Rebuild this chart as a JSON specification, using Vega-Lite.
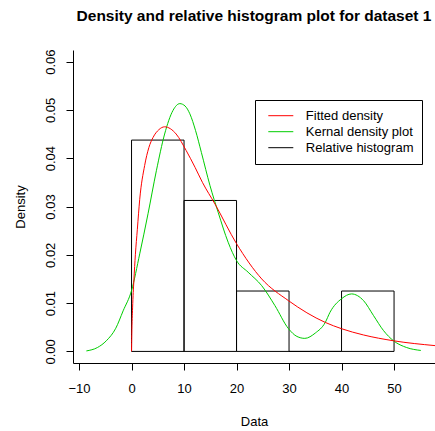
{
  "$schema": "https://vega.github.io/schema/vega-lite/v6.json",
  "width": 362,
  "height": 313,
  "autosize": {"type": "none"},
  "padding": {"left": 73, "top": 50, "right": 0, "bottom": 68},
  "background": "white",
  "title": {"text": "Density and relative histogram plot for dataset 1", "font": "Liberation Sans", "fontSize": 15.5, "fontWeight": "bold", "color": "black", "anchor": "middle", "frame": "group", "baseline": "alphabetic", "offset": 12},
  "config": {
    "view": {"stroke": null},
    "font": "Liberation Sans",
    "axis": {"labelFont": "Liberation Sans", "labelFontSize": 13, "labelColor": "black", "titleFont": "Liberation Sans", "titleFontSize": 13, "titleFontWeight": "normal", "titleColor": "black", "domainColor": "black", "tickColor": "black", "tickSize": 7, "grid": false, "domainWidth": 1, "tickWidth": 1}
  },
  "datasets": {
    "hist": [
      {"series": "Relative histogram", "lo": 0, "hi": 10, "density": 0.04375},
      {"series": "Relative histogram", "lo": 10, "hi": 20, "density": 0.03125},
      {"series": "Relative histogram", "lo": 20, "hi": 30, "density": 0.0125},
      {"series": "Relative histogram", "lo": 30, "hi": 40, "density": 0},
      {"series": "Relative histogram", "lo": 40, "hi": 50, "density": 0.0125}
    ],
    "curves": [
      {"series": "Kernal density plot", "x": -8.6, "y": 0.0001},
      {"series": "Kernal density plot", "x": -6.5, "y": 0.0008},
      {"series": "Kernal density plot", "x": -4.8, "y": 0.0022},
      {"series": "Kernal density plot", "x": -3.0, "y": 0.0048},
      {"series": "Kernal density plot", "x": -1.6, "y": 0.0084},
      {"series": "Kernal density plot", "x": 0, "y": 0.0126},
      {"series": "Kernal density plot", "x": 1.56, "y": 0.0202},
      {"series": "Kernal density plot", "x": 3.14, "y": 0.0285},
      {"series": "Kernal density plot", "x": 4.73, "y": 0.0374},
      {"series": "Kernal density plot", "x": 6.3, "y": 0.045},
      {"series": "Kernal density plot", "x": 7.9, "y": 0.0499},
      {"series": "Kernal density plot", "x": 9.2, "y": 0.0513},
      {"series": "Kernal density plot", "x": 10.2, "y": 0.0508},
      {"series": "Kernal density plot", "x": 11.1, "y": 0.0492},
      {"series": "Kernal density plot", "x": 12.2, "y": 0.0457},
      {"series": "Kernal density plot", "x": 13.3, "y": 0.0412},
      {"series": "Kernal density plot", "x": 14.95, "y": 0.0343},
      {"series": "Kernal density plot", "x": 16.5, "y": 0.0288},
      {"series": "Kernal density plot", "x": 18.4, "y": 0.0226},
      {"series": "Kernal density plot", "x": 20.0, "y": 0.0188},
      {"series": "Kernal density plot", "x": 22.2, "y": 0.0164},
      {"series": "Kernal density plot", "x": 24.8, "y": 0.0136},
      {"series": "Kernal density plot", "x": 27.3, "y": 0.0095},
      {"series": "Kernal density plot", "x": 29.9, "y": 0.0047},
      {"series": "Kernal density plot", "x": 31.5, "y": 0.0031},
      {"series": "Kernal density plot", "x": 33.0, "y": 0.0027},
      {"series": "Kernal density plot", "x": 35.0, "y": 0.0038},
      {"series": "Kernal density plot", "x": 36.9, "y": 0.006},
      {"series": "Kernal density plot", "x": 37.8, "y": 0.0081},
      {"series": "Kernal density plot", "x": 40.0, "y": 0.0109},
      {"series": "Kernal density plot", "x": 41.9, "y": 0.0119},
      {"series": "Kernal density plot", "x": 44.2, "y": 0.0105},
      {"series": "Kernal density plot", "x": 46.1, "y": 0.0074},
      {"series": "Kernal density plot", "x": 48.0, "y": 0.0043},
      {"series": "Kernal density plot", "x": 49.9, "y": 0.0022},
      {"series": "Kernal density plot", "x": 52.4, "y": 0.0008},
      {"series": "Kernal density plot", "x": 55.1, "y": 0.0002},
      {"series": "Fitted density", "x": 0, "y": 0},
      {"series": "Fitted density", "x": 0.05, "y": 0.0035},
      {"series": "Fitted density", "x": 0.2, "y": 0.009},
      {"series": "Fitted density", "x": 0.45, "y": 0.0148},
      {"series": "Fitted density", "x": 0.73, "y": 0.02},
      {"series": "Fitted density", "x": 1.1, "y": 0.0252},
      {"series": "Fitted density", "x": 1.56, "y": 0.0315},
      {"series": "Fitted density", "x": 2.5, "y": 0.0385},
      {"series": "Fitted density", "x": 3.3, "y": 0.0422},
      {"series": "Fitted density", "x": 4.1, "y": 0.0443},
      {"series": "Fitted density", "x": 5.2, "y": 0.0459},
      {"series": "Fitted density", "x": 6.3, "y": 0.0465},
      {"series": "Fitted density", "x": 7.4, "y": 0.0461},
      {"series": "Fitted density", "x": 8.5, "y": 0.045},
      {"series": "Fitted density", "x": 10.4, "y": 0.0416},
      {"series": "Fitted density", "x": 12.1, "y": 0.0381},
      {"series": "Fitted density", "x": 13.5, "y": 0.035},
      {"series": "Fitted density", "x": 15.9, "y": 0.0305},
      {"series": "Fitted density", "x": 20.0, "y": 0.0223},
      {"series": "Fitted density", "x": 24.8, "y": 0.015},
      {"series": "Fitted density", "x": 29.9, "y": 0.0105},
      {"series": "Fitted density", "x": 36.9, "y": 0.006},
      {"series": "Fitted density", "x": 40.0, "y": 0.0047},
      {"series": "Fitted density", "x": 44.2, "y": 0.0034},
      {"series": "Fitted density", "x": 49.9, "y": 0.0022},
      {"series": "Fitted density", "x": 57.8, "y": 0.0012}
    ]
  },
  "layer": [
    {
      "mark": {"type": "rule", "color": "#BEBEBE", "strokeWidth": 1},
      "encoding": {
        "y": {"datum": 0, "type": "quantitative", "scale": {"domain": [-0.0024, 0.0624], "nice": false, "zero": false},
          "axis": {"values": [0, 0.01, 0.02, 0.03, 0.04, 0.05, 0.06], "format": ".2f", "labelAngle": 270, "labelAlign": "center", "labelBaseline": "alphabetic", "labelPadding": 12, "title": "Density", "titleAngle": 270, "titleAlign": "center", "titleBaseline": "alphabetic", "titleX": -49, "titleY": 156.5}}
      }
    },
    {
      "data": {"name": "hist"},
      "mark": {"type": "rect", "fill": null, "strokeWidth": 1},
      "encoding": {
        "x": {"field": "lo", "type": "quantitative", "scale": {"domain": [-11.15, 57.8], "nice": false, "zero": false},
          "axis": {"values": [-10, 0, 10, 20, 30, 40, 50], "labelPadding": 12, "labelFlush": false, "title": "Data", "titleAlign": "center", "titleBaseline": "alphabetic", "titleX": 181, "titleY": 62}},
        "x2": {"field": "hi"},
        "y": {"field": "density", "type": "quantitative"},
        "y2": {"datum": 0},
        "stroke": {"field": "series", "type": "nominal",
          "scale": {"domain": ["Fitted density", "Kernal density plot", "Relative histogram"], "range": ["#FF0000", "#00CD00", "#000000"]},
          "legend": {"title": null, "orient": "none", "legendX": 182, "legendY": 50, "symbolType": "stroke", "symbolSize": 625, "symbolStrokeWidth": 1, "symbolOffset": 5, "clipHeight": 15.8, "labelFont": "Liberation Sans", "labelFontSize": 13, "labelColor": "black", "labelOffset": 12, "strokeColor": "black", "fillColor": "white", "padding": 7.8, "rowPadding": 0}}
      }
    },
    {
      "data": {"name": "curves"},
      "mark": {"type": "line", "strokeWidth": 1, "interpolate": "monotone"},
      "encoding": {
        "x": {"field": "x", "type": "quantitative"},
        "y": {"field": "y", "type": "quantitative"},
        "stroke": {"field": "series", "type": "nominal"}
      }
    },
    {
      "mark": {"type": "rule", "color": "black", "strokeWidth": 1},
      "encoding": {"y": {"datum": 0.0624, "type": "quantitative"}}
    }
  ]
}
